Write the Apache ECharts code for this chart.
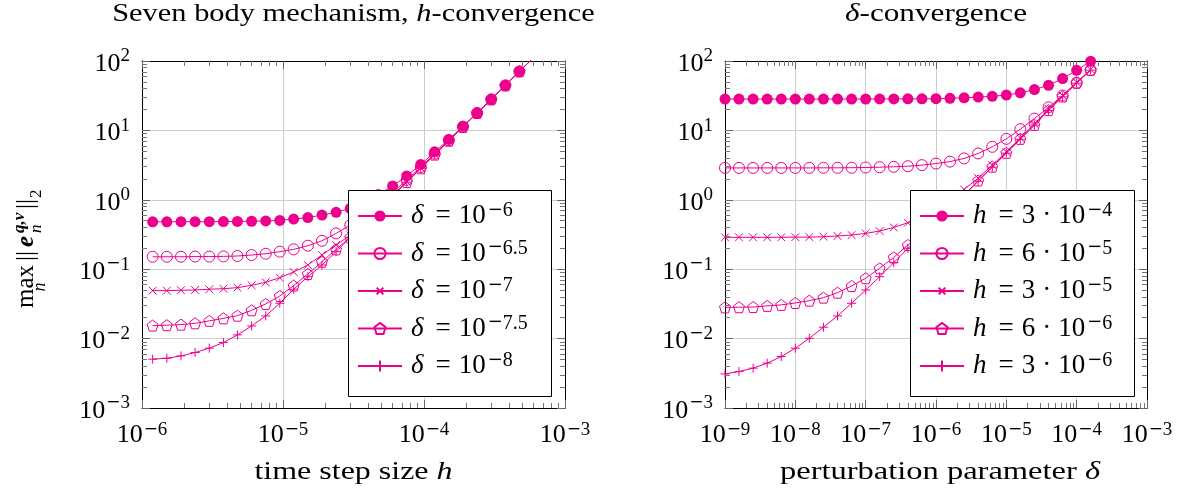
<!DOCTYPE html>
<html>
<head>
<meta charset="utf-8">
<script src="https://cdn.jsdelivr.net/npm/echarts@6/dist/echarts.min.js"></script>
<style>
  html, body { margin: 0; padding: 0; background: #fff; }
  #chart { width: 1186px; height: 492px; }
</style>
</head>
<body>
<div id="chart"></div>
<script>
// ---- data: h-convergence (left panel) ----
const stepSizes = [1.19e-6, 1.50e-6, 1.89e-6, 2.38e-6, 3.00e-6, 3.78e-6, 4.75e-6, 5.99e-6, 7.54e-6, 9.49e-6,
                   1.19e-5, 1.50e-5, 1.89e-5, 2.38e-5, 3.00e-5, 3.78e-5, 4.75e-5, 5.99e-5, 7.54e-5, 9.49e-5,
                   1.19e-4, 1.50e-4, 1.89e-4, 2.38e-4, 3.00e-4, 3.78e-4, 4.75e-4, 5.99e-4];
const errDelta6   = [0.482, 0.482, 0.483, 0.483, 0.484, 0.486, 0.488, 0.491, 0.496, 0.505,
                     0.527, 0.555, 0.602, 0.660, 0.752, 0.93, 1.19, 1.58, 2.21, 3.23,
                     4.91, 7.4, 11.5, 17.9, 28.1, 44.7, 71.1, 112];
const errDelta65  = [0.151, 0.151, 0.151, 0.152, 0.152, 0.153, 0.155, 0.160, 0.167, 0.179,
                     0.193, 0.218, 0.257, 0.328, 0.432, 0.60, 0.86, 1.27, 1.93, 2.97,
                     4.62, 7.2, 11.3, 17.8, 28.0, 44.5, 70.8, 112];
const errDelta7   = [0.0491, 0.0491, 0.0497, 0.0502, 0.0514, 0.0524, 0.0542, 0.0586, 0.0647, 0.0755,
                     0.0912, 0.115, 0.160, 0.223, 0.31, 0.47, 0.74, 1.16, 1.83, 2.88,
                     4.52, 7.1, 11.2, 17.8, 28.0, 44.5, 70.8, 112];
const errDelta75  = [0.0154, 0.0156, 0.0159, 0.0166, 0.0180, 0.0196, 0.0214, 0.0256, 0.0316, 0.0411,
                     0.058, 0.0853, 0.128, 0.193, 0.288, 0.455, 0.72, 1.14, 1.80, 2.84,
                     4.48, 7.1, 11.2, 17.8, 28.0, 44.5, 70.8, 112];
const errDelta8   = [0.00505, 0.00521, 0.00563, 0.0063, 0.00728, 0.00877, 0.0113, 0.0152, 0.0212, 0.0323,
                     0.0514, 0.078, 0.115, 0.179, 0.288, 0.45, 0.715, 1.13, 1.79, 2.83,
                     4.47, 7.1, 11.2, 17.8, 28.0, 44.5, 70.8, 112];

// ---- data: delta-convergence (right panel) ----
const perturbations = [1e-9, 1.58e-9, 2.51e-9, 3.98e-9, 6.31e-9, 1e-8, 1.58e-8, 2.51e-8, 3.98e-8, 6.31e-8,
                       1e-7, 1.58e-7, 2.51e-7, 3.98e-7, 6.31e-7, 1e-6, 1.58e-6, 2.51e-6, 3.98e-6, 6.31e-6,
                       1e-5, 1.58e-5, 2.51e-5, 3.98e-5, 6.31e-5, 1e-4, 1.58e-4];
const errH3e4 = [28.3, 28.3, 28.3, 28.3, 28.3, 28.3, 28.3, 28.3, 28.3, 28.3,
                 28.3, 28.4, 28.4, 28.5, 28.5, 28.6, 29.0, 29.5, 30.2, 31.0,
                 32.3, 34.8, 38.7, 44.7, 55.8, 73.5, 99];
const errH6e5 = [2.88, 2.88, 2.88, 2.88, 2.88, 2.88, 2.88, 2.89, 2.89, 2.90,
                 2.92, 2.95, 2.99, 3.05, 3.16, 3.33, 3.55, 3.95, 4.65, 5.8,
                 7.55, 10.4, 14.8, 21.5, 31.8, 48.7, 74];
const errH3e5 = [0.288, 0.288, 0.288, 0.288, 0.288, 0.290, 0.290, 0.294, 0.301, 0.311,
                 0.328, 0.355, 0.400, 0.467, 0.57, 0.74, 1.0, 1.41, 2.05, 3.17,
                 4.9, 7.8, 12.4, 20.4, 31.7, 49.5, 75.5];
const errH6e6 = [0.0282, 0.0283, 0.0285, 0.0296, 0.0306, 0.0326, 0.0352, 0.0389, 0.0459, 0.0573,
                 0.0740, 0.103, 0.148, 0.223, 0.31, 0.48, 0.74, 1.17, 1.9, 3.0,
                 4.75, 7.55, 12.0, 19.6, 30.8, 48.5, 74.5];
const errH3e6 = [0.00310, 0.00335, 0.00375, 0.00443, 0.00551, 0.00727, 0.0101, 0.0146, 0.0212, 0.0323,
                 0.0502, 0.078, 0.124, 0.200, 0.30, 0.465, 0.73, 1.15, 1.85, 2.95,
                 4.7, 7.45, 11.9, 19.4, 30.5, 48, 74];

// legend labels (rich text) and axis ranges
const leftNames  = ['δ = 10^-6', 'δ = 10^-6.5', 'δ = 10^-7', 'δ = 10^-7.5', 'δ = 10^-8'];
const leftLabels = ['{it|δ}{eq|=}{t|10}{m|−}{sup|6}', '{it|δ}{eq|=}{t|10}{m|−}{sup|6.5}', '{it|δ}{eq|=}{t|10}{m|−}{sup|7}',
                    '{it|δ}{eq|=}{t|10}{m|−}{sup|7.5}', '{it|δ}{eq|=}{t|10}{m|−}{sup|8}'];
const rightNames  = ['h = 3·10^-4', 'h = 6·10^-5', 'h = 3·10^-5', 'h = 6·10^-6', 'h = 3·10^-6'];
const rightLabels = ['{it|h}{eq|=}{t|3}{dot|·}{t|10}{m|−}{sup|4}', '{it|h}{eq|=}{t|6}{dot|·}{t|10}{m|−}{sup|5}',
                     '{it|h}{eq|=}{t|3}{dot|·}{t|10}{m|−}{sup|5}', '{it|h}{eq|=}{t|6}{dot|·}{t|10}{m|−}{sup|6}',
                     '{it|h}{eq|=}{t|3}{dot|·}{t|10}{m|−}{sup|6}'];
const xRangeLeft  = [1e-6, 1e-3];
const xRangeRight = [1e-9, 1e-3];
const yRange      = [1e-3, 1e2];

const MAGENTA = '#ec008c';
const SERIF = "'Liberation Serif', 'DejaVu Serif', serif";
const MINUS_FONT = "'DejaVu Serif', serif";   // wide math minus for exponents

// marker shapes; the cross path carries an empty margin so it draws smaller than its box
const markers = {
  filled:   { symbol: 'circle', size: 11, itemStyle: { color: MAGENTA, borderWidth: 0 } },
  open:     { symbol: 'circle', size: 11, itemStyle: { color: 'rgba(255,255,255,0)', borderColor: MAGENTA, borderWidth: 1 } },
  cross:    { symbol: 'path://M0,0M10,10M2,2L8,8M8,2L2,8', size: 13, itemStyle: { color: 'rgba(255,255,255,0)', borderColor: MAGENTA, borderWidth: 1 } },
  pentagon: { symbol: 'path://M5,0L9.755,3.455L7.939,9.045L2.061,9.045L0.245,3.455Z', size: 11,
              itemStyle: { color: 'rgba(255,255,255,0)', borderColor: MAGENTA, borderWidth: 1 } },
  plus:     { symbol: 'path://M5,0L5,10M0,5L10,5', size: 9, itemStyle: { color: 'rgba(255,255,255,0)', borderColor: MAGENTA, borderWidth: 1 } }
};

function lineSeries(name, xs, ys, marker, axisIdx) {
  const m = markers[marker];
  return {
    name, type: 'line', xAxisIndex: axisIdx, yAxisIndex: axisIdx,
    data: xs.map((x, i) => [x, ys[i]]),
    symbol: m.symbol, symbolSize: m.size, showSymbol: true,
    lineStyle: { color: MAGENTA, width: 1 },
    itemStyle: m.itemStyle,
    emphasis: { disabled: true },
    clip: true, silent: true, animation: false
  };
}

// decade labels 10^e, exponent as a raised smaller token
function powerLabel(v) {
  const e = Math.round(Math.log10(v));
  return e < 0 ? '{b|10}{m|−}{s|' + (-e) + '}' : '{b|10}{s|' + e + '}';
}

const tickRichX = {
  b: { fontFamily: SERIF, fontSize: 26, lineHeight: 28, color: '#000' },
  m: { fontFamily: MINUS_FONT, fontSize: 17, lineHeight: 14, verticalAlign: 'top', padding: [0, 0, 0, 1], color: '#000' },
  s: { fontFamily: SERIF, fontSize: 19, lineHeight: 14, verticalAlign: 'top', color: '#000' }
};
const tickRichY = {
  b: { fontFamily: SERIF, fontSize: 26, lineHeight: 28, padding: [6, 0, 0, 0], color: '#000' },
  m: { fontFamily: MINUS_FONT, fontSize: 17, lineHeight: 20, verticalAlign: 'top', padding: [0, 0, 0, 1], color: '#000' },
  s: { fontFamily: SERIF, fontSize: 19, lineHeight: 20, verticalAlign: 'top', color: '#000' }
};

function logAxis(gridIndex, range, position, withLabels, rich, margin) {
  return {
    type: 'log', logBase: 10, gridIndex, position, min: range[0], max: range[1],
    axisLine: { show: true, onZero: false, lineStyle: { color: '#000', width: 1 } },
    axisTick: { show: true, inside: true, length: 8, lineStyle: { color: '#666', width: 1 } },
    minorTick: { show: true, splitNumber: 9, length: 5, lineStyle: { color: '#777', width: 1 } },
    splitLine: { show: withLabels, lineStyle: { color: '#cdcdcd', width: 1 } },
    minorSplitLine: { show: false },
    axisLabel: withLabels
      ? { show: true, margin, formatter: powerLabel, rich, fontFamily: SERIF, color: '#000' }
      : { show: false },
    axisPointer: { show: false }
  };
}

const legendRich = {
  it:  { fontFamily: SERIF, fontStyle: 'italic', fontSize: 27, lineHeight: 30, padding: [0, 0, 0, 4], color: '#000' },
  eq:  { fontFamily: SERIF, fontSize: 27, lineHeight: 30, padding: [0, 8, 0, 12], color: '#000' },
  t:   { fontFamily: SERIF, fontSize: 27, lineHeight: 30, color: '#000' },
  dot: { fontFamily: SERIF, fontSize: 27, lineHeight: 30, padding: [0, 7, 0, 7], color: '#000' },
  m:   { fontFamily: MINUS_FONT, fontSize: 18, lineHeight: 16, verticalAlign: 'top', padding: [0, 0, 0, 2], color: '#000' },
  sup: { fontFamily: SERIF, fontSize: 20, lineHeight: 16, verticalAlign: 'top', color: '#000' }
};

function legendBlock(names, labels, left) {
  return {
    data: names, orient: 'vertical', left, top: 191,
    padding: [10, 4, 10, 9], itemWidth: 44, itemHeight: 14, itemGap: 9,
    selectedMode: false, z: 6,
    textStyle: { fontFamily: SERIF, fontSize: 27, color: '#000', rich: legendRich },
    formatter: name => labels[names.indexOf(name)]
  };
}

function caption(text, x, y, size, stretch) {
  return {
    type: 'text', x, y, z: 7, scaleX: stretch,
    style: { text, fontFamily: SERIF, fontSize: size, fill: '#000', align: 'center', verticalAlign: 'middle',
             rich: { it: { fontFamily: SERIF, fontSize: size, fontStyle: 'italic' } } }
  };
}

const chart = echarts.init(document.getElementById('chart'), null, { renderer: 'canvas' });

const option = {
  animation: false,
  backgroundColor: '#fff',
  grid: [
    { left: 142, top: 61, width: 423, height: 347, show: false },
    { left: 725, top: 61, width: 422, height: 347, show: false }
  ],
  xAxis: [
    logAxis(0, xRangeLeft, 'bottom', true, tickRichX, 13),
    logAxis(1, xRangeRight, 'bottom', true, tickRichX, 13),
    logAxis(0, xRangeLeft, 'top', false),
    logAxis(1, xRangeRight, 'top', false)
  ],
  yAxis: [
    logAxis(0, yRange, 'left', true, tickRichY, 12),
    logAxis(1, yRange, 'left', true, tickRichY, 12),
    logAxis(0, yRange, 'right', false),
    logAxis(1, yRange, 'right', false)
  ],
  legend: [legendBlock(leftNames, leftLabels, 348), legendBlock(rightNames, rightLabels, 910)],
  series: [
    lineSeries(leftNames[0], stepSizes, errDelta6, 'filled', 0),
    lineSeries(leftNames[1], stepSizes, errDelta65, 'open', 0),
    lineSeries(leftNames[2], stepSizes, errDelta7, 'cross', 0),
    lineSeries(leftNames[3], stepSizes, errDelta75, 'pentagon', 0),
    lineSeries(leftNames[4], stepSizes, errDelta8, 'plus', 0),
    lineSeries(rightNames[0], perturbations, errH3e4, 'filled', 1),
    lineSeries(rightNames[1], perturbations, errH6e5, 'open', 1),
    lineSeries(rightNames[2], perturbations, errH3e5, 'cross', 1),
    lineSeries(rightNames[3], perturbations, errH6e6, 'pentagon', 1),
    lineSeries(rightNames[4], perturbations, errH3e6, 'plus', 1)
  ],
  graphic: [
    // legend frames
    { type: 'rect', z: 5, shape: { x: 348.5, y: 190.5, width: 203, height: 206 },
      style: { fill: '#fff', stroke: '#000', lineWidth: 1 } },
    { type: 'rect', z: 5, shape: { x: 910.5, y: 190.5, width: 224, height: 206 },
      style: { fill: '#fff', stroke: '#000', lineWidth: 1 } },
    // panel titles, centred over each plot
    caption('Seven body mechanism, {it|h}-convergence', 353.5, 14, 26, 1.17),
    caption('{it|δ}-convergence', 936, 14, 26, 1.2),
    // axis titles
    caption('time step size {it|h}', 353.5, 472, 26, 1.23),
    caption('perturbation parameter {it|δ}', 940, 472, 26, 1.25),
    // y-axis title: max_n ||e_n^{q,v}||_2, written bottom-to-top
    { type: 'group', x: 34, y: 308, rotation: Math.PI / 2, z: 7,
      children: [
        { type: 'text', x: 0, y: 5, style: { text: 'max', fontFamily: SERIF, fontSize: 25, fill: '#000', verticalAlign: 'bottom' } },
        { type: 'text', x: 21, y: 15, style: { text: 'n', fontFamily: SERIF, fontStyle: 'italic', fontSize: 18, fill: '#000', align: 'center', verticalAlign: 'bottom' } },
        { type: 'text', x: 47, y: 5, style: { text: '||', fontFamily: SERIF, fontSize: 25, fill: '#000', verticalAlign: 'bottom' } },
        { type: 'text', x: 61, y: 5, style: { text: 'e', fontFamily: SERIF, fontStyle: 'italic', fontWeight: 'bold', fontSize: 25, fill: '#000', verticalAlign: 'bottom' } },
        { type: 'text', x: 75, y: -6, style: { text: 'q,v', fontFamily: SERIF, fontStyle: 'italic', fontWeight: 'bold', fontSize: 17, fill: '#000', verticalAlign: 'bottom' } },
        { type: 'text', x: 75, y: 11, style: { text: 'n', fontFamily: SERIF, fontStyle: 'italic', fontSize: 17, fill: '#000', verticalAlign: 'bottom' } },
        { type: 'text', x: 99, y: 5, style: { text: '||', fontFamily: SERIF, fontSize: 25, fill: '#000', verticalAlign: 'bottom' } },
        { type: 'text', x: 110, y: 11, style: { text: '2', fontFamily: SERIF, fontSize: 17, fill: '#000', verticalAlign: 'bottom' } }
      ] }
  ]
};

chart.setOption(option);
</script>
</body>
</html>
